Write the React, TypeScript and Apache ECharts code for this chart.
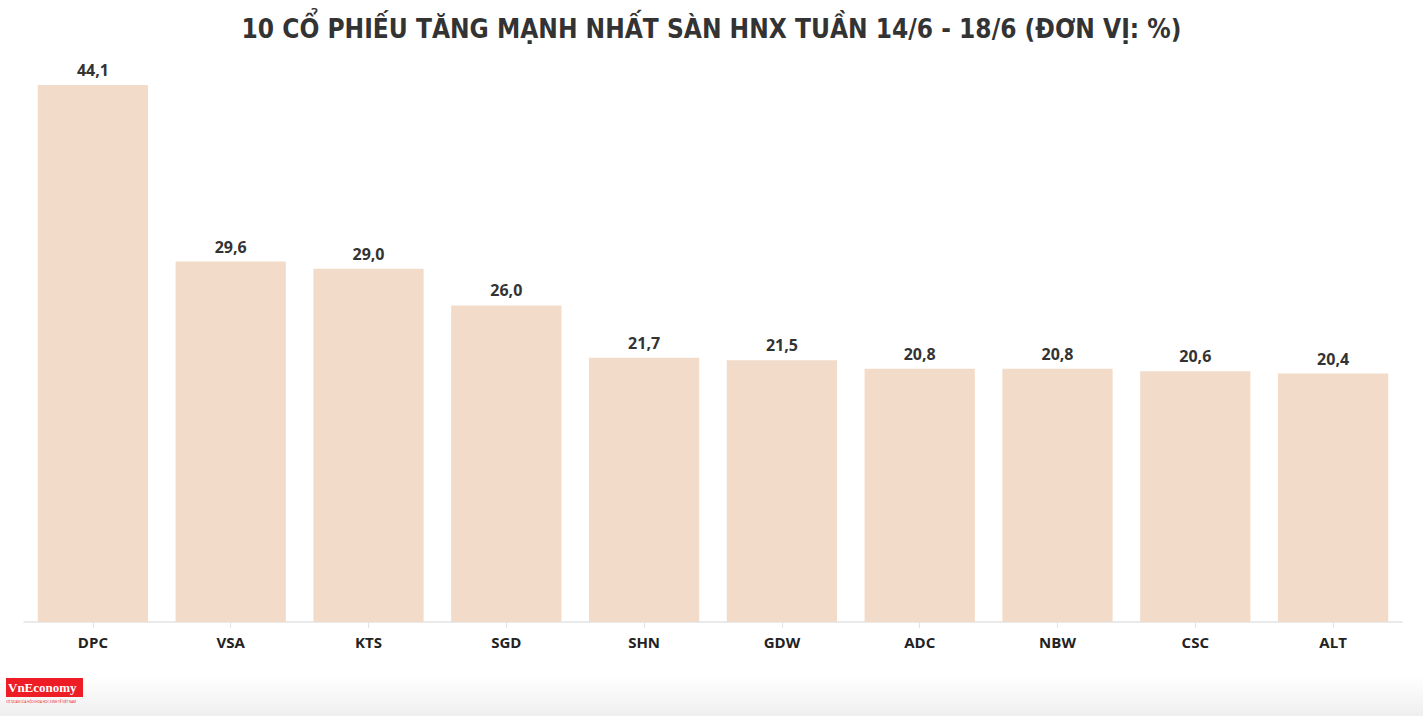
import React, { useEffect, useRef } from "react";
import * as echarts from "echarts";

const categories = ["DPC", "VSA", "KTS", "SGD", "SHN", "GDW", "ADC", "NBW", "CSC", "ALT"];
const values = [44.1, 29.6, 29.0, 26.0, 21.7, 21.5, 20.8, 20.8, 20.6, 20.4];
const titleText = "10 CỔ PHIẾU TĂNG MẠNH NHẤT SÀN HNX TUẦN 14/6 - 18/6 (ĐƠN VỊ: %)";

export default function App() {
  const ref = useRef<HTMLDivElement>(null);
  useEffect(() => {
    document.body.style.margin = "0";
    const chart = echarts.init(ref.current!, null, { renderer: "svg" });
    chart.setOption({
      animation: false,
      backgroundColor: "#ffffff",
      title: {
        text: titleText,
        left: "center",
        top: 11,
        textStyle: {
          fontFamily: "'DejaVu Sans Condensed', 'DejaVu Sans'",
          fontWeight: "bold",
          fontSize: 26,
          color: "#333333",
        },
      },
      grid: { left: 24, right: 21, top: 85, bottom: 94, containLabel: false },
      xAxis: {
        type: "category",
        data: categories,
        axisLine: { lineStyle: { color: "#e3e3e3", width: 1.5 } },
        axisTick: { show: true, alignWithLabel: true, length: 6, lineStyle: { color: "#e3e3e3" } },
        axisLabel: {
          color: "#222222",
          fontWeight: "bold",
          fontSize: 15,
          fontFamily: "'Open Sans', 'Noto Sans'",
          margin: 12,
        },
      },
      yAxis: {
        type: "value",
        min: 0,
        max: Math.max(...values),
        show: false,
        splitLine: { show: false },
      },
      graphic: [
        {
          type: "rect",
          left: 0,
          top: 676,
          shape: { width: 1423, height: 40 },
          style: {
            fill: new echarts.graphic.LinearGradient(0, 0, 0, 1, [
              { offset: 0, color: "#ffffff" },
              { offset: 1, color: "#efefef" },
            ]),
          },
          silent: true,
        },
        {
          type: "rect",
          left: 6,
          top: 678,
          shape: { width: 77, height: 19 },
          style: { fill: "#ee1c25" },
        },
        {
          type: "text",
          left: 8,
          top: 681,
          style: {
            text: "VnEconomy",
            fill: "#ffffff",
            font: "bold 13px 'Liberation Serif', serif",
          },
        },
        {
          type: "text",
          left: 6,
          top: 700,
          style: {
            text: "CƠ QUAN CỦA HỘI KHOA HỌC KINH TẾ VIỆT NAM",
            fill: "#ee1c25",
            font: "3px 'Noto Sans'",
          },
        },
      ],
      series: [
        {
          type: "bar",
          data: values,
          barCategoryGap: "20%",
          itemStyle: { color: "#f2dbc8" },
          label: {
            show: true,
            position: "top",
            distance: 7,
            color: "#333333",
            fontWeight: "bold",
            fontSize: 16,
            fontFamily: "'Open Sans', 'Noto Sans'",
            formatter: (p: any) => p.value.toFixed(1).replace(".", ","),
          },
        },
      ],
    });
    return () => chart.dispose();
  }, []);
  return <div ref={ref} style={{ width: 1423, height: 716 }} />;
}
